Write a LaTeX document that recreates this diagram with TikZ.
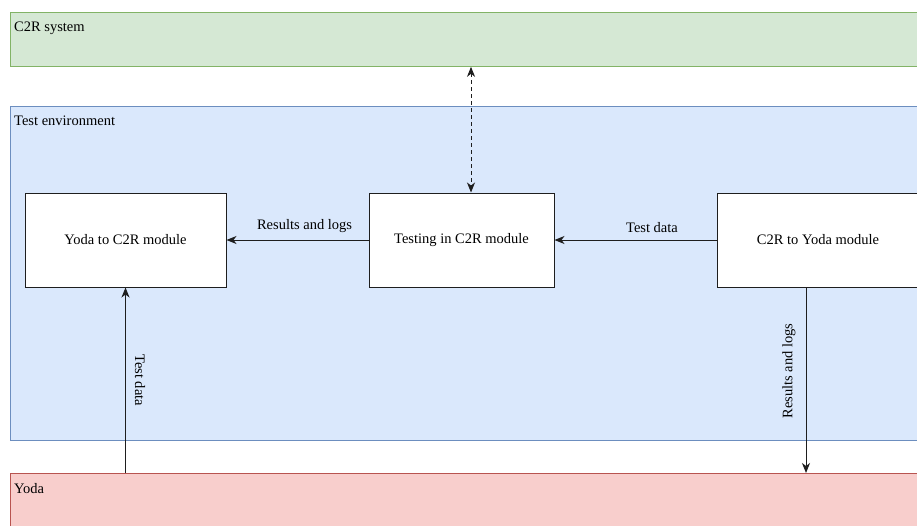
\documentclass[tikz,border=0pt]{standalone}
\usepackage{fontspec}
\setmainfont{Liberation Serif}
\usepackage{xcolor}
\usepackage{tikz}
\usetikzlibrary{arrows.meta}
\definecolor{sysgreen}{RGB}{213,232,212}
\definecolor{sysgreenline}{RGB}{130,179,102}
\definecolor{envblue}{RGB}{218,232,252}
\definecolor{envblueline}{RGB}{108,142,191}
\definecolor{yodared}{RGB}{248,206,204}
\definecolor{yodaredline}{RGB}{184,84,80}
\definecolor{lineclr}{RGB}{30,30,30}

\begin{document}
\begin{tikzpicture}[x=1pt, y=-1pt,
    font=\fontsize{14.5}{17}\selectfont,
    >={Stealth[length=10pt, width=8pt, inset=3pt]},
    band/.style={draw, rectangle, anchor=north west, minimum width=915pt, inner sep=0pt, line width=0.8pt},
    bandlabel/.style={anchor=north west, inner xsep=4pt, inner ysep=10pt},
    module/.style={draw=lineclr, fill=white, rectangle, minimum width=201pt, minimum height=94pt, line width=1pt},
    flow/.style={draw=lineclr, line width=1pt, ->}]
    \clip (0,0) rectangle (917,525);

    % the three layers
    \node[band, fill=sysgreen, draw=sysgreenline, minimum height=54pt] (c2rsys) at (10,12) {};
    \node[band, fill=envblue, draw=envblueline, minimum height=334pt] (testenv) at (10,106) {};
    \node[band, fill=yodared, draw=yodaredline, minimum height=60pt] (yoda) at (10,473) {};
    \node[bandlabel] (c2rsyslabel) at (c2rsys.north west) {C2R system};
    \node[bandlabel] (testenvlabel) at (testenv.north west) {Test environment};
    \node[bandlabel] (yodalabel) at (yoda.north west) {Yoda};

    % modules
    \node[module] (yoda2c2r) at (125.5,240) {Yoda to C2R module};
    \node[module, minimum width=185pt] (testc2r) at (461.5,240) {Testing in C2R module};
    \node[module] (c2r2yoda) at (818,240) {C2R to Yoda module};

    % data flow
    \draw[flow] (testc2r) -- node[pos=0.45, above=4pt] {Results and logs} (yoda2c2r);
    \draw[flow] (c2r2yoda) -- node[pos=0.4, above=4pt] {Test data} (testc2r);
    \draw[flow, <->, dash pattern=on 4pt off 3pt] ([xshift=9.5pt]testc2r.north |- c2rsys.south) -- ([xshift=9.5pt]testc2r.north);
    \draw[flow] (yoda2c2r.south |- yoda.north) -- node[midway, rotate=-90, anchor=south, inner ysep=9pt] {Test data} (yoda2c2r.south);
    \draw[flow] ([xshift=-12pt]c2r2yoda.south) -- node[pos=0.45, rotate=90, anchor=south, inner ysep=10pt] {Results and logs} ([xshift=-12pt]c2r2yoda.south |- yoda.north);
\end{tikzpicture}
\end{document}
